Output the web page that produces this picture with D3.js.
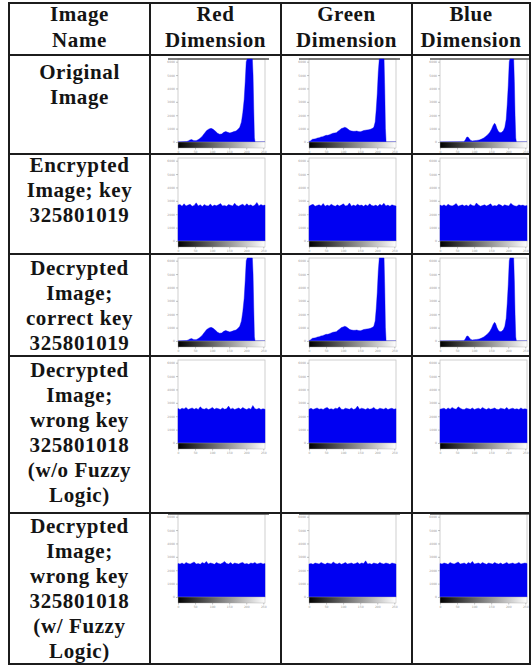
<!DOCTYPE html>
<html><head><meta charset="utf-8">
<script src="https://cdn.jsdelivr.net/npm/d3@7"></script>
<style>body{margin:0;background:#fff}</style>
</head><body><svg id="c" width="532" height="666"></svg>
<script>
// ---------- DATA ----------
const headerLabels = [["Image","Name"],["Red","Dimension"],["Green","Dimension"],["Blue","Dimension"]];
const rowLabels = [
  ["Original","Image"],
  ["Encrypted","Image; key","325801019"],
  ["Decrypted","Image;","correct key","325801019"],
  ["Decrypted","Image;","wrong key","325801018","(w/o Fuzzy","Logic)"],
  ["Decrypted","Image;","wrong key","325801018","(w/ Fuzzy","Logic)"]
];
const xTicks = [0,50,100,150,200,250];
const yTicks = [0,1,2,3,4,5,6];           // thousands of pixels
const yTickLabels = ["0","1000","2000","3000","4000","5000","6000"];

// original-image histograms: [intensity level, count (thousands)]
const origRed = [[0,0],[25,0.03],[30,0.08],[35,0.15],[40,0.18],[45,0.12],[50,0.1],[55,0.12],[62,0.22],[70,0.4],[76,0.6],[84,0.85],[91,0.98],[97,1.02],[103,0.95],[110,0.8],[116,0.65],[122,0.58],[128,0.6],[134,0.72],[140,0.78],[146,0.72],[152,0.68],[158,0.72],[164,0.78],[170,0.82],[176,0.95],[181,1.1],[186,1.5],[190,2.2],[194,3.2],[197,4.5],[200,6],[203,7],[218,7],[220,5],[222,2.5],[224,0.3],[226,0],[255,0]];
const origGreen = [[0,0.02],[5,0.1],[10,0.2],[15,0.22],[20,0.25],[25,0.3],[30,0.32],[35,0.38],[40,0.4],[45,0.45],[50,0.5],[55,0.5],[60,0.55],[65,0.6],[70,0.65],[75,0.68],[80,0.7],[85,0.8],[90,0.9],[95,1.0],[100,1.05],[105,1.1],[110,1.05],[115,0.95],[120,0.85],[125,0.82],[130,0.8],[135,0.8],[140,0.82],[145,0.78],[150,0.76],[155,0.8],[160,0.85],[165,0.88],[170,0.9],[175,0.92],[180,0.95],[185,1.0],[190,1.1],[194,1.5],[197,2.4],[200,3.6],[203,5.2],[206,7],[220,7],[222,4],[224,1],[226,0],[255,0]];
const origBlue = [[0,0],[70,0.02],[74,0.15],[78,0.35],[82,0.38],[86,0.25],[90,0.12],[95,0.08],[100,0.1],[108,0.12],[115,0.15],[122,0.22],[128,0.3],[134,0.42],[140,0.55],[146,0.72],[151,0.95],[156,1.25],[160,1.4],[163,1.3],[167,1.0],[171,0.8],[176,0.7],[181,0.72],[186,0.85],[190,1.1],[194,1.7],[197,2.8],[200,4.2],[203,6],[205,7],[216,7],[218,4.5],[220,2],[222,0.3],[224,0],[255,0]];

// noisy (flat) histograms: counts in thousands, evenly spread over 0..255
const encRed   = [2.68,2.72,2.6,2.78,2.62,2.68,2.74,2.6,2.66,2.85,2.62,2.7,2.58,2.72,2.64,2.62,2.76,2.6,2.68,2.63,2.7,2.8,2.62,2.66,2.6,2.72,2.67,2.62,2.82,2.65,2.6,2.68,2.74,2.62,2.78,2.65,2.7,2.6,2.68,2.88,2.62,2.72,2.65,2.68];
const encGreen = [2.6,2.68,2.74,2.6,2.65,2.7,2.62,2.8,2.6,2.68,2.62,2.74,2.65,2.6,2.7,2.62,2.68,2.78,2.62,2.65,2.84,2.6,2.68,2.62,2.74,2.65,2.68,2.6,2.7,2.62,2.78,2.65,2.62,2.68,2.6,2.74,2.65,2.82,2.62,2.68,2.6,2.7,2.65,2.62];
const encBlue  = [2.68,2.62,2.7,2.6,2.74,2.65,2.62,2.68,2.8,2.6,2.65,2.7,2.62,2.68,2.6,2.74,2.65,2.62,2.84,2.68,2.6,2.65,2.7,2.62,2.68,2.78,2.6,2.65,2.62,2.74,2.68,2.6,2.7,2.65,2.62,2.82,2.68,2.62,2.6,2.7,2.65,2.68,2.62,2.65];
const woRed    = [2.58,2.5,2.6,2.54,2.66,2.5,2.56,2.62,2.52,2.6,2.5,2.7,2.56,2.52,2.6,2.5,2.56,2.66,2.52,2.6,2.56,2.5,2.62,2.52,2.56,2.76,2.52,2.6,2.5,2.56,2.62,2.52,2.66,2.56,2.5,2.6,2.52,2.8,2.56,2.52,2.6,2.5,2.56,2.52];
const woGreen  = [2.52,2.6,2.5,2.56,2.62,2.52,2.56,2.5,2.6,2.66,2.52,2.56,2.5,2.6,2.56,2.7,2.52,2.5,2.6,2.56,2.52,2.62,2.5,2.56,2.76,2.52,2.6,2.56,2.5,2.6,2.52,2.56,2.66,2.52,2.5,2.6,2.56,2.52,2.62,2.5,2.56,2.6,2.52,2.56];
const woBlue   = [2.52,2.56,2.6,2.5,2.62,2.52,2.66,2.56,2.52,2.7,2.6,2.52,2.5,2.6,2.56,2.52,2.62,2.5,2.56,2.6,2.52,2.66,2.56,2.5,2.6,2.52,2.56,2.62,2.52,2.5,2.6,2.56,2.52,2.66,2.5,2.56,2.6,2.52,2.56,2.5,2.62,2.52,2.56,2.52];
const wRed     = [2.5,2.46,2.54,2.44,2.58,2.5,2.46,2.54,2.62,2.46,2.5,2.44,2.58,2.5,2.66,2.46,2.54,2.5,2.44,2.58,2.5,2.46,2.54,2.66,2.5,2.46,2.58,2.44,2.54,2.5,2.46,2.54,2.58,2.46,2.5,2.44,2.54,2.5,2.58,2.46,2.5,2.54,2.46,2.5];
const wGreen   = [2.46,2.5,2.44,2.54,2.5,2.46,2.58,2.5,2.44,2.54,2.5,2.46,2.62,2.5,2.46,2.54,2.44,2.5,2.58,2.46,2.5,2.54,2.46,2.5,2.58,2.46,2.54,2.5,2.7,2.46,2.5,2.44,2.54,2.5,2.46,2.58,2.5,2.46,2.54,2.5,2.44,2.54,2.5,2.46];
const wBlue    = [2.5,2.46,2.54,2.5,2.44,2.58,2.5,2.46,2.54,2.62,2.46,2.5,2.54,2.44,2.58,2.5,2.66,2.46,2.5,2.54,2.46,2.58,2.5,2.44,2.54,2.5,2.46,2.58,2.5,2.46,2.54,2.44,2.5,2.58,2.46,2.5,2.54,2.46,2.5,2.58,2.46,2.5,2.54,2.5];

// ---------- LAYOUT ----------
const colX = [9,150,281,412,530];
const rowY = [3,55,154,254,356,513,664];
const firstBaseline = [21,79,172,275,377,533];
const lineStep = 25;
const plotOffX = 28, plotW = 87, plotH = 83, barH = 6;
const plotOffY = [4,4,4,4,1];
const darkTop = [true,false,false,false,true];

const svg = d3.select("#c");
const defs = svg.append("defs");
const grad = defs.append("linearGradient").attr("id","gray").attr("x1","0%").attr("x2","100%");
grad.append("stop").attr("offset","0%").attr("stop-color","#000");
grad.append("stop").attr("offset","100%").attr("stop-color","#fff");

const toPairs = arr => {
  const idx = d3.scaleLinear().domain([0, arr.length-1]).range([0,255]);
  return arr.map((v,i)=>[idx(i), v]);
};
const rowSeries = [
  [origRed,origGreen,origBlue],
  [toPairs(encRed),toPairs(encGreen),toPairs(encBlue)],
  [origRed,origGreen,origBlue],
  [toPairs(woRed),toPairs(woGreen),toPairs(woBlue)],
  [toPairs(wRed),toPairs(wGreen),toPairs(wBlue)]
];

const textFont = "'Liberation Serif','Times New Roman',serif";

// header text
headerLabels.forEach((lines,c)=>{
  const cx = (colX[c]+colX[c+1])/2;
  lines.forEach((t,i)=>{
    svg.append("text").attr("x",cx).attr("y",firstBaseline[0]+i*26)
      .attr("text-anchor","middle").attr("font-family",textFont).attr("font-weight","bold")
      .attr("font-size",21).attr("letter-spacing","0.6px").attr("fill","#141414").text(t);
  });
});
// row labels
rowLabels.forEach((lines,r)=>{
  const cx = (colX[0]+colX[1])/2;
  lines.forEach((t,i)=>{
    svg.append("text").attr("x",cx).attr("y",firstBaseline[r+1]+i*lineStep)
      .attr("text-anchor","middle").attr("font-family",textFont).attr("font-weight","bold")
      .attr("font-size",21).attr("letter-spacing","0.6px").attr("fill","#141414").text(t);
  });
});

// histograms
rowSeries.forEach((series,r)=>{
  series.forEach((data,c)=>{
    const left = colX[c+1]+plotOffX;
    const top = rowY[r+1]+plotOffY[r];
    const x = d3.scaleLinear().domain([0,255]).range([left,left+plotW]);
    const y = d3.scaleLinear().domain([0,6.2]).range([top+plotH,top]).clamp(true);
    const g = svg.append("g");
    g.append("rect").attr("x",left).attr("y",top).attr("width",plotW).attr("height",plotH)
      .attr("fill","#fff").attr("stroke","#c4c4c4").attr("stroke-width",0.8);
    if(darkTop[r]) g.append("line").attr("x1",left-10).attr("x2",left+plotW+4)
      .attr("y1",top).attr("y2",top).attr("stroke","#555").attr("stroke-width",1.3);
    const area = d3.area().x(d=>x(d[0])).y0(y(0)).y1(d=>y(d[1])).curve(d3.curveLinear);
    g.append("path").datum(data).attr("d",area).attr("fill","#0000f2").attr("stroke","#0000f2").attr("stroke-width",0.4);
    // y axis
    const ya = g.append("g").attr("transform",`translate(${left},0)`)
      .call(d3.axisLeft(y).tickValues(yTicks).tickFormat((d,i)=>yTickLabels[i]).tickSize(2).tickPadding(1));
    ya.select(".domain").remove();
    ya.selectAll("line").attr("stroke","#999").attr("stroke-width",0.6);
    ya.selectAll("text").attr("font-size",3).attr("fill","#999").attr("font-family","DejaVu Sans");
    // colorbar
    g.append("rect").attr("x",left).attr("y",top+plotH).attr("width",plotW).attr("height",barH)
      .attr("fill","url(#gray)").attr("stroke","#aaa").attr("stroke-width",0.4);
    // x axis
    const xa = g.append("g").attr("transform",`translate(0,${top+plotH+barH})`)
      .call(d3.axisBottom(x).tickValues(xTicks).tickSize(1.5).tickPadding(1));
    xa.select(".domain").remove();
    xa.selectAll("line").attr("stroke","#999").attr("stroke-width",0.6);
    xa.selectAll("text").attr("font-size",3).attr("fill","#999").attr("font-family","DejaVu Sans");
  });
});

// table grid
const grid = svg.append("g").attr("stroke","#1c1c1c").attr("stroke-width",2);
colX.forEach(v=>grid.append("line").attr("x1",v).attr("x2",v).attr("y1",rowY[0]).attr("y2",rowY[rowY.length-1]));
rowY.forEach(v=>grid.append("line").attr("x1",colX[0]-1).attr("x2",colX[colX.length-1]+1).attr("y1",v).attr("y2",v));
</script></body></html>
